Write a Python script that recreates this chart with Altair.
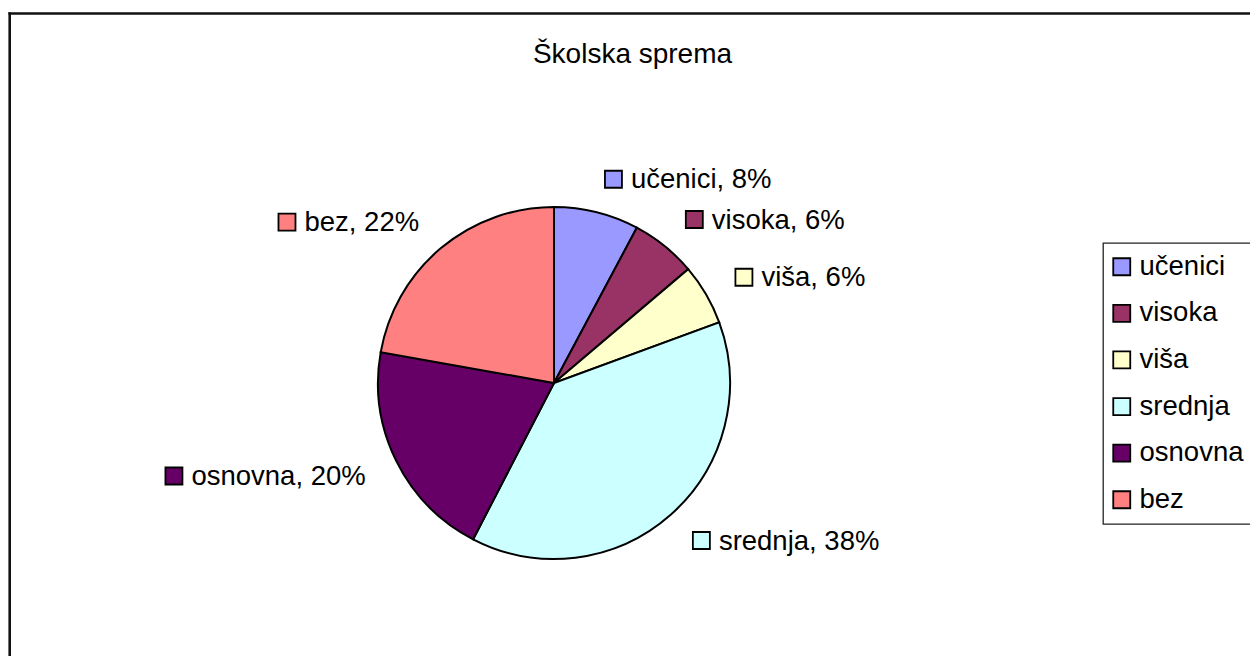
import math
import altair as alt
import pandas as pd

# ---- data ----
categories = ["učenici", "visoka", "viša", "srednja", "osnovna", "bez"]
shares = [7.8, 6.0, 5.6, 38.2, 20.2, 22.2]
colors = ["#9999FF", "#993366", "#FFFFCC", "#CCFFFF", "#660066", "#FF8080"]
title_text = "Školska sprema"

# ---- layout / style ----
W, H = 1242, 648
CX, CY = 546, 375
R_PIE = 176
R_LABEL = 210
FONT = "Liberation Sans"
FS = 27.5

# Arial / Liberation Sans advance widths (1/1000 em)
ARIAL = {
    "a": 556, "b": 556, "c": 500, "d": 556, "e": 556, "i": 222, "j": 222,
    "k": 500, "l": 222, "m": 833, "n": 556, "o": 556, "p": 556, "r": 333,
    "s": 500, "t": 278, "u": 556, "v": 500, "z": 500, "č": 500, "š": 500,
    ",": 278, " ": 278, "%": 889,
}


def text_width(s):
    return sum(ARIAL.get(ch, 556) for ch in s) * FS / 1000.0


rows = []
cum = 0.0
for i, (c, v) in enumerate(zip(categories, shares)):
    mid = (cum + v / 2.0) / 100.0 * 2 * math.pi
    cum += v
    label = f"{c}, {round(v)}%"
    ax = CX + R_LABEL * math.sin(mid)
    ay = CY - R_LABEL * math.cos(mid)
    if math.sin(mid) >= 0:
        tx = ax + 26
    else:
        tx = ax - text_width(label)
    rows.append(dict(idx=i, cat=c, share=v, label=label,
                     tx=tx, ty=ay + 9, mx=tx - 17.5, my=ay))
df = pd.DataFrame(rows)

color_scale = alt.Scale(domain=categories, range=colors)
xs = alt.Scale(domain=[0, W], range=[0, W], nice=False, zero=False)
ys = alt.Scale(domain=[0, H], range=[0, H], nice=False, zero=False)

base = alt.Chart(df)

pie = base.mark_arc(outerRadius=R_PIE, stroke="black", strokeWidth=2).encode(
    theta=alt.Theta("share:Q", stack=True),
    order=alt.Order("idx:Q"),
    color=alt.Color(
        "cat:N",
        scale=color_scale,
        legend=alt.Legend(
            title=None, orient="none", legendX=1095, legendY=235,
            symbolType="square", symbolSize=289, symbolOffset=-5,
            symbolStrokeColor="black", symbolStrokeWidth=1.8,
            labelFont=FONT, labelFontSize=FS, labelColor="black",
            labelOffset=4, rowPadding=17.6, padding=10,
            labelExpr="datum.label + '      '",
        ),
    ),
    x=alt.value(CX),
    y=alt.value(CY),
)

markers = base.mark_square(size=289, opacity=1, stroke="black", strokeWidth=1.8).encode(
    x=alt.X("mx:Q", scale=xs, axis=None),
    y=alt.Y("my:Q", scale=ys, axis=None),
    color=alt.Color("cat:N", scale=color_scale, legend=None),
)

labels = base.mark_text(font=FONT, fontSize=FS, align="left",
                        baseline="alphabetic", color="black").encode(
    x=alt.X("tx:Q", scale=xs, axis=None),
    y=alt.Y("ty:Q", scale=ys, axis=None),
    text="label:N",
)

title = alt.Chart(pd.DataFrame({"t": [title_text]})).mark_text(
    font=FONT, fontSize=28, align="center", baseline="alphabetic", color="black"
).encode(x=alt.value(624.5), y=alt.value(55.3), text="t:N")

one = pd.DataFrame({"k": [0]})
top_line = alt.Chart(one).mark_rule(color="#111111", strokeWidth=2.6, strokeCap="square").encode(
    x=alt.value(1.7), x2=alt.value(W + 5), y=alt.value(5.5)
)
left_line = alt.Chart(one).mark_rule(color="#111111", strokeWidth=2.6, strokeCap="square").encode(
    x=alt.value(1.7), y=alt.value(5.5), y2=alt.value(H + 5)
)

chart = alt.layer(top_line, left_line, title, pie, markers, labels).properties(
    width=W, height=H, autosize="none", padding=0, background="white"
).configure_view(stroke="transparent").configure_legend(
    strokeColor="#222222", strokeWidth=1.3
)

chart.save("out.html", embed_options={"renderer": "svg", "actions": False})
